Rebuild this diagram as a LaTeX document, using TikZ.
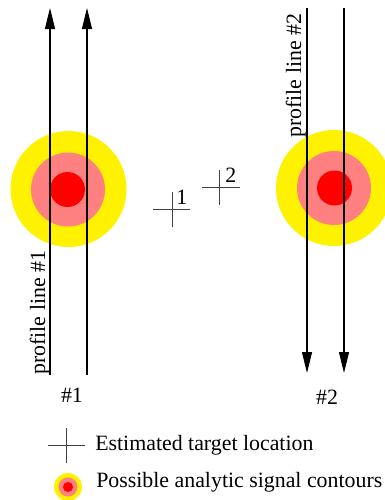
\documentclass[tikz,border=0pt]{standalone}
\usepackage{fontspec}
\setmainfont{Liberation Serif}
\usepackage{tikz}
\usetikzlibrary{positioning,arrows.meta,calc}

\begin{document}
\begin{tikzpicture}[
    x=0.75pt, y=-0.75pt,
    font=\fontsize{16.4}{19}\selectfont,
    prof/.style={black, line width=0.8pt, -{Triangle[length=15.75pt, width=7.5pt]}},
    crossline/.style={black!75, line width=0.45pt},
    lbl/.style={inner sep=0pt},
    outer/.style={fill=yellow},
    middle/.style={fill=red!50},
    inner/.style={fill=red},
  ]
  \clip (0,0) rectangle (385,500);

  % signal contours around the two targets
  \fill[outer]  (68.5,189) circle (58);
  \fill[middle] (68,189.5) circle (37);
  \fill[inner]  (67.5,189.5) circle (17.5);
  \fill[outer]  (334,188) circle (58);
  \fill[middle] (334,188) circle (37);
  \fill[inner]  (334.5,188) circle (17.5);

  % profile lines #1 (northward) and #2 (southward)
  \coordinate (p1a) at (50,375);  \coordinate (q1a) at (50,8);
  \coordinate (p1b) at (87,375);  \coordinate (q1b) at (87,8);
  \coordinate (p2a) at (307,8);   \coordinate (q2a) at (307,373);
  \coordinate (p2b) at (344,8);   \coordinate (q2b) at (344,373);
  \draw[prof] (p1a) -- (q1a);
  \draw[prof] (p1b) -- (q1b);
  \draw[prof] (p2a) -- (q2a);
  \draw[prof] (p2b) -- (q2b);

  \node[lbl, rotate=90, anchor=south west] (name1) at (50,375) {profile line \#1};
  \node[lbl, rotate=90, anchor=south west] (name2) at (306,138) {profile line \#2};
  \node (end1) at (72,395) {\#1};
  \node (end2) at (327,397) {\#2};

  % estimated target locations
  \draw[crossline] (153,209) -- (190,209) (172,192) -- (172,227);
  \node[lbl, anchor=south west] (loc1) at (176,205) {1};
  \draw[crossline] (202,187) -- (240,187) (219,170) -- (219,205);
  \node[lbl, anchor=south west] (loc2) at (225,183) {2};

  % legend
  \draw[crossline] (48,445) -- (85,445) (66,428) -- (66,463);
  \node[lbl, anchor=west] (leg1) at (95,445) {Estimated target location};
  \fill[outer]  (68,487) circle (14);
  \fill[middle] (68,487) circle (9.5);
  \fill[inner]  (68,487) circle (5);
  \node[lbl, anchor=west] (leg2) at (96,482) {Possible analytic signal contours};
\end{tikzpicture}
\end{document}
